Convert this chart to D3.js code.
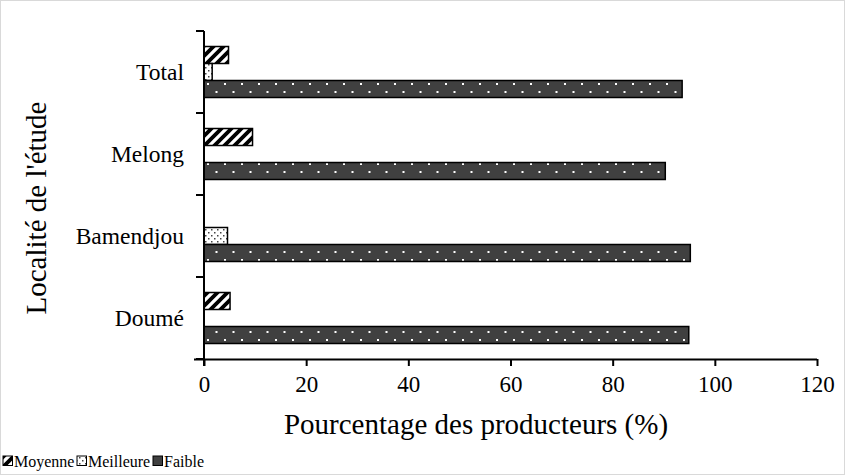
<!DOCTYPE html>
<html><head><meta charset="utf-8">
<script src="https://cdn.jsdelivr.net/npm/d3@7"></script>
<style>body{margin:0;background:#fff}svg{display:block}</style>
</head><body>
<script>
const categories = ["Doumé", "Bamendjou", "Melong", "Total"];
const seriesNames = ["Moyenne", "Meilleure", "Faible"];
const moyenne = [5.1, 0, 9.5, 4.8];
const meilleure = [0, 4.6, 0, 1.6];
const faible = [94.9, 95.2, 90.3, 93.6];
const xTicks = [0, 20, 40, 60, 80, 100, 120];
const seriesValues = [moyenne, meilleure, faible];

const W = 845, H = 475;
const svg = d3.select("body").append("svg").attr("width", W).attr("height", H);
const FONT = "'Liberation Serif', 'Times New Roman', serif";

const defs = svg.append("defs");
const p1 = defs.append("pattern").attr("id", "pMoy").attr("patternUnits", "userSpaceOnUse")
  .attr("width", 10).attr("height", 10);
p1.append("rect").attr("width", 10).attr("height", 10).attr("fill", "#fff");
p1.append("path").attr("d", "M-3,3 L3,-3 M0,10 L10,0 M7,13 L13,7")
  .attr("stroke", "#000").attr("stroke-width", 3.8);
const p2 = defs.append("pattern").attr("id", "pMei").attr("patternUnits", "userSpaceOnUse")
  .attr("width", 6).attr("height", 6);
p2.append("rect").attr("width", 6).attr("height", 6).attr("fill", "#fff");
p2.append("rect").attr("x", 1).attr("y", 1).attr("width", 1.5).attr("height", 1.5).attr("fill", "#444");
p2.append("rect").attr("x", 4).attr("y", 4).attr("width", 1.5).attr("height", 1.5).attr("fill", "#444");
const p3 = defs.append("pattern").attr("id", "pFai").attr("patternUnits", "userSpaceOnUse")
  .attr("width", 17).attr("height", 16);
p3.append("rect").attr("width", 17).attr("height", 16).attr("fill", "#404040");
p3.append("rect").attr("x", 3).attr("y", 3).attr("width", 2).attr("height", 2).attr("fill", "#fff");
p3.append("rect").attr("x", 11.5).attr("y", 11).attr("width", 2).attr("height", 2).attr("fill", "#fff");
const fills = ["url(#pMoy)", "url(#pMei)", "url(#pFai)"];

svg.append("rect").attr("x", 0.5).attr("y", 0.5).attr("width", W - 1).attr("height", H - 1)
  .attr("fill", "none").attr("stroke", "#d9d9d9");

const x = d3.scaleLinear().domain([0, 120]).range([204, 817]);
const y = d3.scaleBand().domain(categories).range([359, 31]);
const inner = d3.scaleBand().domain(seriesNames).range([-25.5, 25.5]);

seriesNames.forEach((s, si) => {
  svg.append("g").selectAll("rect").data(categories.map((c, i) => ({c, v: seriesValues[si][i]})).filter(d => d.v > 0))
    .join("rect")
    .attr("x", x(0))
    .attr("y", d => y(d.c) + y.bandwidth() / 2 + inner(s))
    .attr("width", d => x(d.v) - x(0))
    .attr("height", inner.bandwidth())
    .attr("fill", fills[si])
    .attr("stroke", "#000").attr("stroke-width", 1.5);
});

const xAxis = svg.append("g").attr("transform", `translate(0,${y.range()[0]})`)
  .call(d3.axisBottom(x).tickValues(xTicks).tickSize(7).tickPadding(10).tickSizeOuter(0));
xAxis.attr("font-family", FONT).attr("font-size", 23);
xAxis.select(".domain").attr("stroke", "#000").attr("stroke-width", 2)
  .attr("d", `M${x(0) - 10},0.5H${x(120)}`);
xAxis.selectAll(".tick line").attr("stroke", "#000").attr("stroke-width", 2);
xAxis.selectAll("text").attr("font-family", FONT).attr("font-size", 23).attr("fill", "#000");

const yg = svg.append("g");
yg.append("line").attr("x1", x(0)).attr("x2", x(0)).attr("y1", y.range()[1]).attr("y2", y.range()[0] + 7)
  .attr("stroke", "#000").attr("stroke-width", 2);
const bounds = categories.map(c => y(c)).concat([y.range()[0]]);
yg.selectAll(".yt").data(bounds).join("line")
  .attr("x1", x(0) - 8).attr("x2", x(0)).attr("y1", d => d).attr("y2", d => d)
  .attr("stroke", "#000").attr("stroke-width", 2);
yg.selectAll("text").data(categories).join("text")
  .attr("x", x(0) - 20).attr("y", d => y(d) + y.bandwidth() / 2)
  .attr("text-anchor", "end").attr("dy", "0.35em")
  .attr("font-family", FONT).attr("font-size", 23.5).text(d => d);

svg.append("text").attr("x", 476).attr("y", 434).attr("text-anchor", "middle")
  .attr("font-family", FONT).attr("font-size", 29).text("Pourcentage des producteurs (%)");
svg.append("text").attr("transform", "translate(46,208) rotate(-90)").attr("text-anchor", "middle")
  .attr("font-family", FONT).attr("font-size", 29).text("Localité de l'étude");

const legX = [3, 77, 153];
const leg = svg.append("g");
seriesNames.forEach((s, i) => {
  leg.append("rect").attr("x", legX[i]).attr("y", 456).attr("width", 9.5).attr("height", 9.5)
    .attr("fill", fills[i]).attr("stroke", "#000").attr("stroke-width", 1);
  leg.append("text").attr("x", legX[i] + 11).attr("y", 467)
    .attr("font-family", FONT).attr("font-size", 16).text(s);
});
</script>
</body></html>
